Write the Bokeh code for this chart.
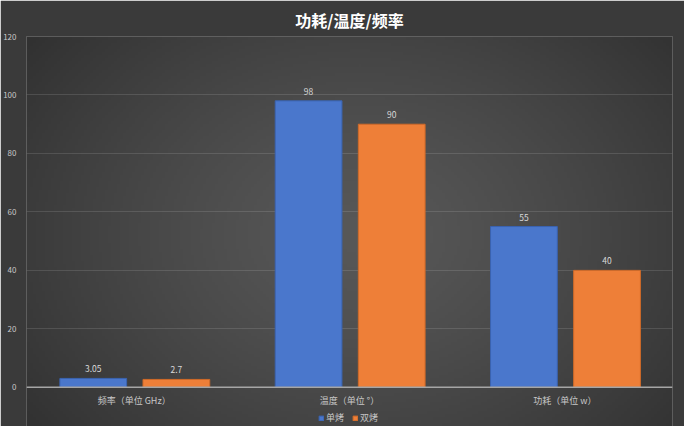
import numpy as np
from bokeh.plotting import figure
from bokeh.models import ColumnDataSource, FactorRange, Range1d, Legend, LegendItem, Span
from bokeh.transform import dodge
from bokeh.core.properties import value
from bokeh.embed import file_html
from bokeh.resources import INLINE

categories = ["频率（单位 GHz）", "温度（单位 °）", "功耗（单位 w）"]
single = [3.05, 98, 55]
dual = [2.7, 90, 40]
series_names = ["单烤", "双烤"]
single_labels = ["3.05", "98", "55"]
dual_labels = ["2.7", "90", "40"]
y_ticks = [0, 20, 40, 60, 80, 100, 120]

FONT = "Noto Sans CJK SC"
BORDER = "#3a3a3a"
W, H = 684, 426

source = ColumnDataSource(dict(cat=categories, single=single, dual=dual,
                               sl=single_labels, dl=dual_labels,
                               base=[0] * len(categories)))

# the frame reaches below zero so the category names and legend can sit inside it
p = figure(width=W, height=H, x_range=FactorRange(*categories, range_padding=0),
           y_range=Range1d(-13.4, 120), output_backend="svg", toolbar_location=None,
           title="功耗/温度/频率", min_border_left=14, min_border_right=12,
           min_border_top=0, min_border_bottom=0)

p.background_fill_color = BORDER
p.border_fill_color = BORDER
p.outline_line_color = None
p.outline_line_alpha = 0

# soft radial shading behind the frame (approx. frame pixels 27..672 x 37..426)
fx0, fx1, fy0, fy1 = 27, 672, 37, H
nx, ny = 216, 130
gx, gy = np.meshgrid(np.linspace(fx0, fx1, nx), np.linspace(fy1, fy0, ny))
d = np.sqrt(((gx - 360) / 430) ** 2 + ((gy - 235) / 330) ** 2)
shade = (88 - 40 * np.clip(d, 0, 1.2) ** 1.3).astype(np.uint32)
img = (255 << 24) | (shade << 16) | (shade << 8) | shade
p.image_rgba(image=[img.view(np.uint32)], x=0, y=p.y_range.start,
             dw=len(categories), dh=p.y_range.end - p.y_range.start, level="image")

p.title.text_font = FONT
p.title.text_font_size = "16px"
p.title.text_color = "#ffffff"
p.title.text_font_style = "bold"
p.title.align = "center"

p.xgrid.visible = False
p.ygrid.grid_line_color = "#ffffff"
p.ygrid.grid_line_alpha = 0.12
p.ygrid.ticker = y_ticks

b1 = p.vbar(x=dodge("cat", -0.19, range=p.x_range), top="single", width=0.31, source=source,
            fill_color="#4a77cc", line_color="#3a63b0", line_width=1)
b2 = p.vbar(x=dodge("cat", 0.196, range=p.x_range), top="dual", width=0.31, source=source,
            fill_color="#ee7f38", line_color="#d06a28", line_width=1)

p.add_layout(Span(location=0, dimension="width", line_color="#a6a6a6", line_width=1.5))

p.text(x=dodge("cat", -0.19, range=p.x_range), y="single", text="sl", source=source,
       text_font=value(FONT), text_font_size="8.5px", text_color="#d9d9d9",
       text_align="center", text_baseline="bottom", y_offset=-6)
p.text(x=dodge("cat", 0.196, range=p.x_range), y="dual", text="dl", source=source,
       text_font=value(FONT), text_font_size="8.5px", text_color="#d9d9d9",
       text_align="center", text_baseline="bottom", y_offset=-6)

# category names under the baseline
p.text(x="cat", y="base", text="cat", source=source,
       text_font=value(FONT), text_font_size="9px", text_color="#c8c8c8",
       text_align="center", text_baseline="top", y_offset=7)

p.xaxis.visible = False

yax = p.left[0]
yax.ticker = y_ticks
yax.axis_line_color = None
yax.axis_line_width = 0
yax.major_tick_line_color = None
yax.minor_tick_line_color = None
yax.major_label_text_color = "#c8c8c8"
yax.major_label_text_font = FONT
yax.major_label_text_font_size = "8px"
yax.major_label_standoff = 4

legend = Legend(items=[LegendItem(label=series_names[0], renderers=[b1]),
                       LegendItem(label=series_names[1], renderers=[b2])],
                orientation="horizontal", location=(292, 2),
                background_fill_alpha=0, border_line_color=None,
                label_text_color="#c8c8c8", label_text_font=FONT,
                label_text_font_size="9px", glyph_width=6, glyph_height=6,
                label_standoff=2, spacing=6, padding=0, margin=0,
                label_height=10)
p.add_layout(legend)

open("out.html", "w").write(file_html(p, INLINE))
